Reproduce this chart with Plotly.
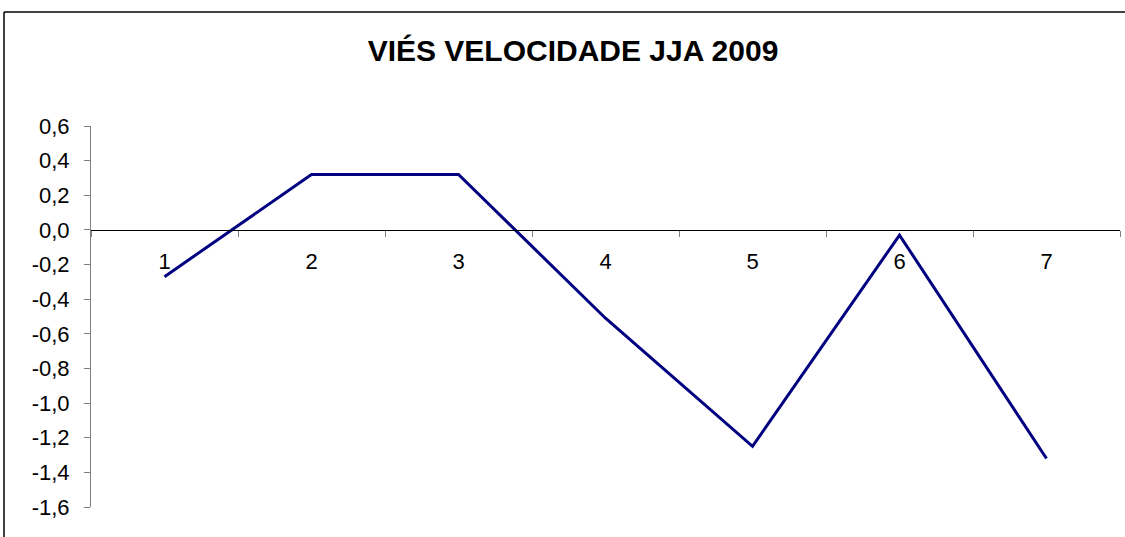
import plotly.graph_objects as go

categories = ["1", "2", "3", "4", "5", "6", "7"]
vies = [-0.27, 0.32, 0.32, -0.51, -1.25, -0.03, -1.32]
y_ticks = [0.6, 0.4, 0.2, 0.0, -0.2, -0.4, -0.6, -0.8, -1.0, -1.2, -1.4, -1.6]
y_tick_text = ["0,6", "0,4", "0,2", "0,0", "-0,2", "-0,4", "-0,6", "-0,8",
               "-1,0", "-1,2", "-1,4", "-1,6"]
title_text = "VIÉS VELOCIDADE JJA 2009"

W, H = 1125, 537
L, R, T, B = 91, 5, 126, 30
pw, ph = W - L - R, H - T - B
FONT = "Liberation Sans, Arial, sans-serif"

fig = go.Figure()
fig.add_trace(go.Scatter(x=categories, y=vies, mode="lines",
                         line=dict(color="#000080", width=3), showlegend=False,
                         hoverinfo="x+y"))

ymin, ymax = -1.6, 0.6
fig.update_layout(
    width=W, height=H,
    margin=dict(l=L, r=R, t=T, b=B),
    paper_bgcolor="white", plot_bgcolor="white",
    font=dict(family=FONT, size=22, color="black"),
    title=dict(text="<b>" + title_text + "</b>", x=573 / W, xanchor="center",
               y=1 - 50 / H, yanchor="middle",
               font=dict(size=30, family=FONT, color="black")),
    xaxis=dict(type="category", range=[-0.5, 6.5], tickson="boundaries",
               ticks="outside", ticklen=6, tickcolor="#808080",
               showline=True, linecolor="black", linewidth=1,
               showgrid=False, zeroline=False,
               anchor="free", position=(0 - ymin) / (ymax - ymin),
               ticklabelstandoff=12, fixedrange=True),
    yaxis=dict(range=[ymin, ymax], tickmode="array", tickvals=y_ticks,
               ticktext=y_tick_text, ticks="outside", ticklen=6, tickcolor="#808080",
               showline=True, linecolor="#808080", linewidth=1,
               showgrid=False, zeroline=False, fixedrange=True,
               ticklabelstandoff=10),
)

# chart-area border (top and left visible)
x_left = (4 - L) / pw
y_top = 1 + (T - 12) / ph
fig.add_shape(type="line", xref="paper", yref="paper", x0=x_left, x1=1 + R / pw + 0.01,
              y0=y_top, y1=y_top, line=dict(color="black", width=1.5))
fig.add_shape(type="line", xref="paper", yref="paper", x0=x_left, x1=x_left,
              y0=y_top, y1=-B / ph - 0.01, line=dict(color="black", width=1.5))

fig.write_html("out.html", config={"displayModeBar": False},
               post_script="document.body.style.margin='0';")
